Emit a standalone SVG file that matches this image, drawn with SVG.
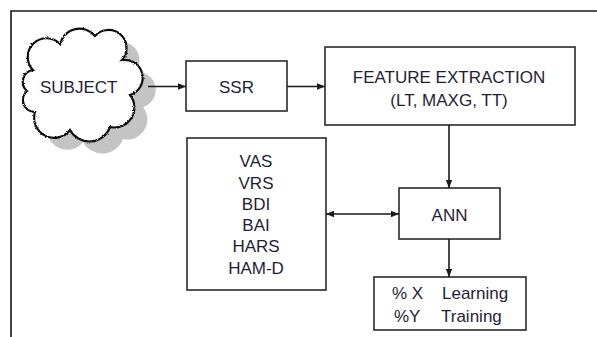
<svg xmlns="http://www.w3.org/2000/svg" width="597" height="337" viewBox="0 0 597 337">
  <style>
    .box { fill: #ffffff; stroke: #2a2a2a; stroke-width: 1.6; }
    .wire { fill: none; stroke: #1a1a1a; stroke-width: 1.6; }
    .lbl { font-family: "Liberation Sans", Arial, sans-serif; font-size: 17px; fill: #1e1e34; }
    .mid { text-anchor: middle; }
  </style>
  <defs>
    <marker id="head" viewBox="0 0 8 8" refX="8" refY="4" markerWidth="8" markerHeight="8" markerUnits="userSpaceOnUse" orient="auto-start-reverse">
      <path d="M0,0.8 L8,4 L0,7.2 Z" fill="#1a1a1a"/>
    </marker>
    <filter id="rough" x="-10%" y="-10%" width="120%" height="120%">
      <feTurbulence type="fractalNoise" baseFrequency="0.9" numOctaves="2" seed="3"/>
      <feDisplacementMap in="SourceGraphic" scale="2.5" xChannelSelector="R" yChannelSelector="G"/>
    </filter>
    <path id="cloudShape" d="M33,70 A16,16 0 0 1 60,44 A20,20 0 0 1 95,36 A17,17 0 0 1 122,60 A18,18 0 0 1 130,95 A20,20 0 0 1 110,127 A22,22 0 0 1 70,130 A20,20 0 0 1 35,112 A12,12 0 0 1 27,91 A12,12 0 0 1 33,70 Z"/>
  </defs>

  <!-- page frame -->
  <path class="wire" d="M11,337 V11 H597" stroke-width="2"/>

  <!-- SUBJECT cloud -->
  <g id="subject">
    <use href="#cloudShape" transform="translate(13,12)" fill="#c4c4c4"/>
    <use href="#cloudShape" fill="#ffffff" stroke="#111111" stroke-width="2.2" filter="url(#rough)"/>
    <text class="lbl" x="40" y="93">SUBJECT</text>
  </g>

  <!-- SSR -->
  <g id="ssr">
    <rect class="box" x="186" y="61" width="101" height="50"/>
    <text class="lbl mid" x="236.5" y="93">SSR</text>
  </g>

  <!-- feature extraction -->
  <g id="feature-extraction">
    <rect class="box" x="325" y="47" width="250" height="78"/>
    <text class="lbl mid" x="449" y="83">FEATURE EXTRACTION</text>
    <text class="lbl mid" x="449" y="106">(LT, MAXG, TT)</text>
  </g>

  <!-- rating scales -->
  <g id="scales">
    <rect class="box" x="187" y="138" width="139" height="152"/>
    <text class="lbl mid" x="256" y="167">VAS</text>
    <text class="lbl mid" x="256" y="189">VRS</text>
    <text class="lbl mid" x="256" y="210">BDI</text>
    <text class="lbl mid" x="256" y="231">BAI</text>
    <text class="lbl mid" x="256" y="252">HARS</text>
    <text class="lbl mid" x="256" y="274">HAM-D</text>
  </g>

  <!-- ANN -->
  <g id="ann">
    <rect class="box" x="399" y="188" width="101" height="51"/>
    <text class="lbl mid" x="449.5" y="221">ANN</text>
  </g>

  <!-- results -->
  <g id="results">
    <rect class="box" x="374" y="277" width="152" height="53"/>
    <text class="lbl" x="392" y="299">% X</text>
    <text class="lbl" x="442" y="299">Learning</text>
    <text class="lbl" x="394" y="322">%Y</text>
    <text class="lbl" x="441" y="322">Training</text>
  </g>

  <!-- connectors -->
  <g id="connectors">
    <path class="wire" d="M148,86.5 H186" marker-end="url(#head)"/>
    <path class="wire" d="M287,86.5 H325" marker-end="url(#head)"/>
    <path class="wire" d="M449,125 V188" marker-end="url(#head)"/>
    <path class="wire" d="M326,214 H399" marker-start="url(#head)" marker-end="url(#head)"/>
    <path class="wire" d="M449,239 V277" marker-end="url(#head)"/>
  </g>
</svg>
